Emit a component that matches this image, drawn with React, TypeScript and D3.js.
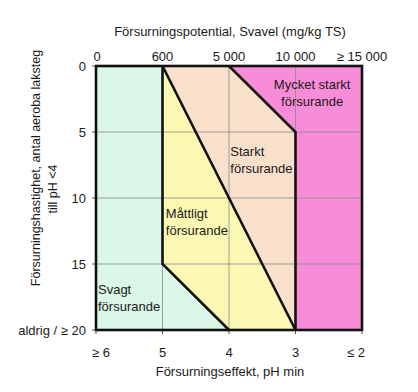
import * as d3 from 'd3';

// top axis: sulphur content (mg/kg TS), one label per column edge
const topTicks = ['0', '600', '5 000', '10 000', '≥ 15 000'];
// bottom axis: pH min
const bottomTicks = ['≥ 6', '5', '4', '3', '≤ 2'];
// left axis: aerobic leaching steps until pH < 4
const leftValues = [0, 5, 10, 15, 20];
const leftTicks = ['0', '5', '10', '15', 'aldrig / ≥ 20'];

// zones as [column, steps]
const greenZone: [number, number][] = [[0, 0], [1, 0], [1, 15], [2, 20], [0, 20]];
const yellowZone: [number, number][] = [[1, 0], [3, 20], [2, 20], [1, 15]];
const peachZone: [number, number][] = [[1, 0], [2, 0], [3, 5], [3, 20]];
const pinkZone: [number, number][] = [[2, 0], [4, 0], [4, 20], [3, 20], [3, 5]];

const boundaries: [number, number][][] = [
  [[1, 0], [1, 15], [2, 20]],
  [[1, 0], [3, 20]],
  [[2, 0], [3, 5], [3, 20]],
];

const zoneLabels = [
  { lines: ['Mycket starkt', 'försurande'], at: [3.25, 1.75] as [number, number], anchor: 'middle' },
  { lines: ['Starkt', 'försurande'], at: [2.02, 6.85] as [number, number], anchor: 'start' },
  { lines: ['Måttligt', 'försurande'], at: [1.05, 11.5] as [number, number], anchor: 'start' },
  { lines: ['Svagt', 'försurande'], at: [0.03, 17.3] as [number, number], anchor: 'start' },
];

const W = 418, H = 392;
const FONT = '"Liberation Sans", Arial, sans-serif';

export default function App() {
  const x = d3.scaleLinear().domain([0, 4]).range([96, 362]);
  const y = d3.scaleLinear().domain([0, 20]).range([66, 330]);
  const line = d3.line<[number, number]>().x(d => x(d[0])).y(d => y(d[1]));
  const poly = (pts: [number, number][]) => line(pts) + 'Z';
  const cols = d3.range(5);

  return (
    <div style={{ position: 'fixed', left: 0, top: 0 }}>
      <svg width={W} height={H} style={{ display: 'block', background: '#fff' }} fontFamily={FONT}>
        {/* zones */}
        <path d={poly(greenZone)} fill="#daf7e7" />
        <path d={poly(yellowZone)} fill="#fbf8b4" />
        <path d={poly(peachZone)} fill="#f9e0cb" />
        <path d={poly(pinkZone)} fill="#f98cd8" />

        {/* grid */}
        {cols.slice(1, 4).map(c => (
          <line key={'gx' + c} x1={x(c)} x2={x(c)} y1={y(0)} y2={y(20)} stroke="#8a8a8a" strokeWidth={0.8} />
        ))}
        {leftValues.slice(1, 4).map(v => (
          <line key={'gy' + v} x1={x(0)} x2={x(4)} y1={y(v)} y2={y(v)} stroke="#8a8a8a" strokeWidth={0.8} />
        ))}

        {/* ticks */}
        {cols.map(c => (
          <line key={'tb' + c} x1={x(c)} x2={x(c)} y1={y(20)} y2={y(20) + 4} stroke="#555" strokeWidth={1} />
        ))}
        {leftValues.map(v => (
          <line key={'tl' + v} x1={x(0) - 4} x2={x(0)} y1={y(v)} y2={y(v)} stroke="#555" strokeWidth={1} />
        ))}

        {/* zone boundaries */}
        {boundaries.map((b, i) => (
          <path key={'b' + i} d={line(b) ?? ''} fill="none" stroke="#111" strokeWidth={2.6} strokeLinejoin="miter" />
        ))}
        <rect x={x(0)} y={y(0)} width={x(4) - x(0)} height={y(20) - y(0)} fill="none" stroke="#111" strokeWidth={2.6} />

        {/* zone labels */}
        {zoneLabels.map((z, i) => (
          <text key={'z' + i} x={x(z.at[0])} y={y(z.at[1])} textAnchor={z.anchor} fontSize={13} fill="#1a1a1a">
            {z.lines.map((l, j) => (
              <tspan key={j} x={x(z.at[0])} dy={j === 0 ? 0 : 17}>{l}</tspan>
            ))}
          </text>
        ))}

        {/* top axis */}
        <text x={230} y={36} textAnchor="middle" fontSize={13} fill="#1a1a1a">
          Försurningspotential, Svavel (mg/kg TS)
        </text>
        {topTicks.map((t, i) => (
          <text key={'tt' + i} x={x(i) + (i === 0 ? 1 : 0)} y={61} textAnchor="middle" fontSize={13} fill="#1a1a1a">{t}</text>
        ))}

        {/* left axis */}
        {leftTicks.map((t, i) => (
          <text key={'lt' + i} x={86} y={y(leftValues[i]) + 5} textAnchor="end" fontSize={13} fill="#1a1a1a">{t}</text>
        ))}
        <text transform="translate(40,168) rotate(-90)" textAnchor="middle" fontSize={12.5} fill="#1a1a1a">
          Försurningshastighet, antal aeroba laksteg
        </text>
        <text transform="translate(57,189) rotate(-90)" textAnchor="middle" fontSize={12.5} fill="#1a1a1a">
          till pH &lt;4
        </text>

        {/* bottom axis */}
        {bottomTicks.map((t, i) => (
          <text key={'bt' + i} x={x(i) + (i === 0 ? 5 : i === 4 ? -6 : 0)} y={357} textAnchor="middle" fontSize={13} fill="#1a1a1a">{t}</text>
        ))}
        <text x={230} y={376} textAnchor="middle" fontSize={13} fill="#1a1a1a">
          Försurningseffekt, pH min
        </text>
      </svg>
    </div>
  );
}
